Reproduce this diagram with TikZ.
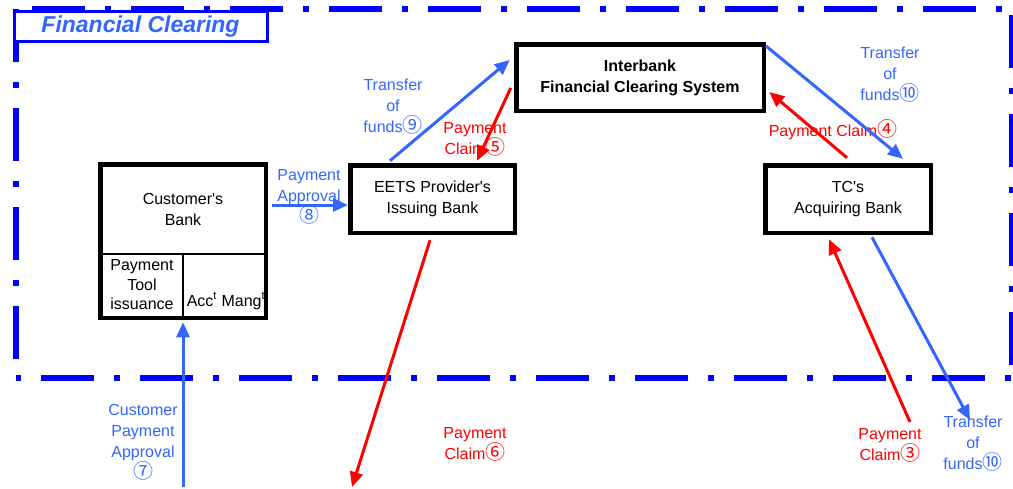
\documentclass[tikz,border=0pt]{standalone}
\usepackage{fontspec}
\setmainfont{Liberation Sans}
\newfontfamily\cjk{Noto Sans CJK SC}
\usetikzlibrary{arrows.meta}
\definecolor{frameblue}{RGB}{0,0,255}
\definecolor{arrblue}{RGB}{51,102,255}
\definecolor{arrred}{RGB}{255,0,0}
\newcommand{\cn}[1]{{\cjk\fontsize{20}{21}\selectfont #1}}
\newcommand{\aq}{\textquotesingle}
\begin{document}
\begin{tikzpicture}[x=1pt,y=-1pt,
  box/.style={draw=black,line width=4.5pt,fill=white,inner sep=0pt,align=center,font=\fontsize{16}{21}\selectfont},
  lbl/.style={align=center,inner sep=0pt,font=\fontsize{16}{21}\selectfont},
  bluelbl/.style={lbl,text=arrblue},
  redlbl/.style={lbl,text=arrred},
  barrow/.style={draw=arrblue,line width=3pt,-{Triangle[length=15pt,width=13pt]}},
  rarrow/.style={draw=arrred,line width=3pt,-{Triangle[length=15pt,width=13pt]}},
  frameside/.style={frameblue,line width=6pt,dash pattern=on 53pt off 20pt on 6pt off 20pt},
]
\useasboundingbox (0,0) rectangle (1013,488);
% frame
\coordinate (ftl) at (15.5,9);
\coordinate (ftr) at (1012,9);
\coordinate (fbr) at (1012,378);
\coordinate (fbl) at (15.5,378);
\draw[frameside,dash phase=82.5pt] (ftl) -- (ftr);
\draw[frameside,dash phase=0pt] (ftl) -- (fbl);
\draw[frameside,dash phase=93pt] (ftr) -- (fbr);
\draw[frameside,dash phase=73.5pt] (fbl) -- (fbr);
\node[draw=frameblue,line width=3pt,fill=white,minimum width=253pt,minimum height=30pt,inner sep=0pt,
  font=\fontsize{23}{26}\bfseries\itshape\selectfont,text=arrblue] (title) at (140.5,26.5) {Financial Clearing};
% boxes
\node[box,minimum width=247.5pt,minimum height=66.5pt,font=\fontsize{16}{21}\bfseries\selectfont] (ib) at (640,77.5) {Interbank\\Financial Clearing System};
\node[box,minimum width=164.5pt,minimum height=67.5pt] (eets) at (432.5,199) {EETS Provider\aq s\\Issuing Bank};
\node[box,minimum width=165.5pt,minimum height=67.5pt] (tc) at (848,199) {TC\aq s\\Acquiring Bank};
\node[box,minimum width=165.5pt,minimum height=153.5pt] (cb) at (183,241) {};
\coordinate (split) at (183,254);
\draw[line width=2pt] (cb.west |- split) -- (cb.east |- split);
\draw[line width=2pt] (split) -- (cb.south);
\node[lbl] (cbt) at (183,209.5) {Customer\aq s\\Bank};
\node[lbl,font=\fontsize{16}{19.5}\selectfont] (pti) at (142,285) {Payment\\Tool\\issuance};
\node[lbl] (acc) at (226,301) {Acc\textsuperscript{t} Mang\textsuperscript{t}};
% labels
\node[bluelbl] (l9) at (393,107) {Transfer\\of\\funds\cn{⑨}};
\node[redlbl] (l5) at (475,139) {Payment\\Claim\cn{⑤}};
\node[bluelbl] (l10a) at (890,75) {Transfer\\of\\funds\cn{⑩}};
\node[redlbl] (l4) at (833,130) {Payment Claim\cn{④}};
\node[bluelbl] (l8) at (309,197) {Payment\\Approval\\\cn{⑧}};
\node[bluelbl] (l7) at (143,442) {Customer\\Payment\\Approval\\\cn{⑦}};
\node[redlbl] (l6) at (475,444) {Payment\\Claim\cn{⑥}};
\node[redlbl] (l3) at (890,445) {Payment\\Claim\cn{③}};
\node[bluelbl] (l10b) at (973,444) {Transfer\\of\\funds\cn{⑩}};
% free ends
\coordinate (c7) at (183,487);
\coordinate (c6) at (352,487);
\coordinate (c3) at (910,422);
\coordinate (c10) at (970,420);
% arrows
\draw[barrow] ([xshift=-42.5pt,yshift=2.25pt]eets.north) -- ([xshift=-4.25pt,yshift=17.5pt]ib.west);
\draw[rarrow] ([xshift=-3.25pt,yshift=-10.5pt]ib.west) -- ([xshift=44.5pt,yshift=2.25pt]eets.north);
\draw[barrow] ([yshift=-4pt]ib.north east) -- ([xshift=55pt,yshift=4.25pt]tc.north);
\draw[rarrow] ([xshift=-1pt,yshift=5.25pt]tc.north) -- ([xshift=3.25pt,yshift=-14.5pt]ib.east);
\draw[barrow] ([xshift=4.25pt,yshift=36pt]cb.east) -- ([yshift=-6pt]eets.west);
\draw[barrow] (c7) -- ([yshift=-2.25pt]cb.south);
\draw[rarrow] ([xshift=-2.5pt,yshift=-5.25pt]eets.south) -- (c6);
\draw[rarrow] (c3) -- ([xshift=-19pt,yshift=-4.25pt]tc.south);
\draw[barrow] ([xshift=24pt,yshift=-2.25pt]tc.south) -- (c10);
\end{tikzpicture}
\end{document}
